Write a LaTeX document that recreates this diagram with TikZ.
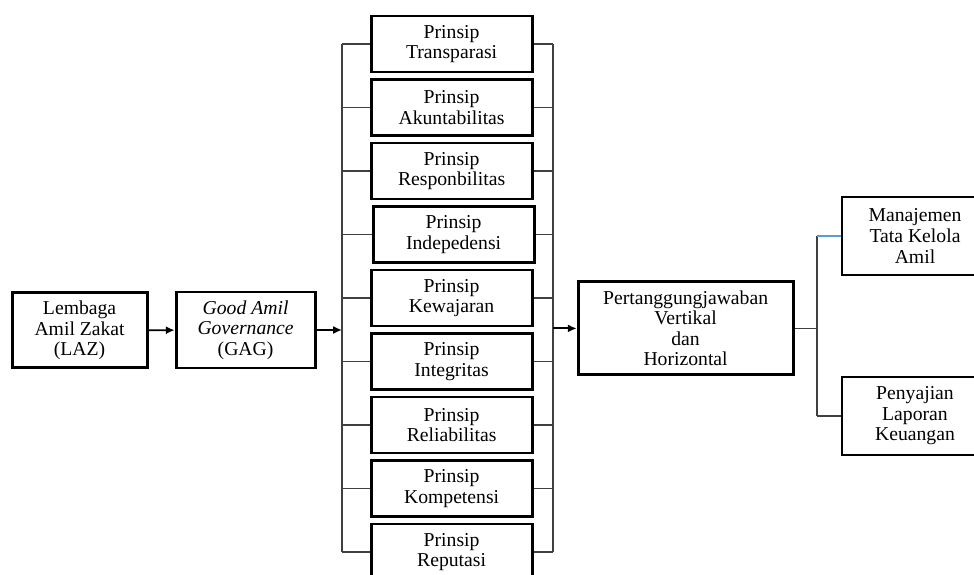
\documentclass[tikz,border=0pt]{standalone}
\usepackage{fontspec}
\setmainfont{Liberation Serif}
\usetikzlibrary{positioning, arrows.meta}
\definecolor{stubblue}{RGB}{91,155,213}
\tikzset{
    base/.style={draw, line width=2pt, align=center, inner sep=1pt, font=\fontsize{14}{14.6}\selectfont},
    box/.style={base, rectangle, minimum width=4.025cm, minimum height=1.4cm},
    bigbox/.style={base, rectangle, minimum height=1.9cm},
    arrow/.style={-{Latex[length=2.2mm, width=2mm]}, line width=1.3pt},
    line/.style={draw, line width=0.8pt, black!75}
}

\begin{document}
\begin{tikzpicture}
    \useasboundingbox (0, 0) rectangle (24.35, -14.375);

    % Left side
    \node[bigbox, minimum width=3.375cm, minimum height=1.875cm] (laz) at (1.99, -8.26) {Lembaga\\Amil Zakat\\(LAZ)};
    \node[bigbox, minimum width=3.475cm] (gag) at (6.14, -8.25) {\textit{Good Amil}\\\textit{Governance}\\(GAG)};

    % Principles
    \node[box] (p1) at (11.29, -1.1) {Prinsip\\Transparasi};
    \node[box] (p2) at (11.29, -2.6875) {Prinsip\\Akuntabilitas};
    \node[box] (p3) at (11.29, -4.275) {Prinsip\\Responbilitas};
    \node[box] (p4) at (11.34, -5.8625) {Prinsip\\Indepedensi};
    \node[box] (p5) at (11.29, -7.45) {Prinsip\\Kewajaran};
    \node[box] (p6) at (11.29, -9.0375) {Prinsip\\Integritas};
    \node[box] (p7) at (11.29, -10.625) {Prinsip\\Reliabilitas};
    \node[box] (p8) at (11.29, -12.2125) {Prinsip\\Kompetensi};
    \node[box] (p9) at (11.29, -13.8) {Prinsip\\Reputasi};

    % Buses
    \coordinate (lbus) at (8.55, 0);
    \coordinate (rbus) at (13.825, 0);
    \draw[line] (p1.west -| lbus) -- (p9.west -| lbus);
    \draw[line] (p1.east -| rbus) -- (p9.east -| rbus);
    \foreach \p in {p1, p2, p3, p4, p5, p6, p7, p8, p9} {
        \draw[line] (\p.west -| lbus) -- (\p.west);
        \draw[line] (\p.east) -- (\p.east -| rbus);
    }

    % Accountability
    \node[base, minimum width=5.375cm, minimum height=2.325cm] (ptj) at (17.14, -8.21) {Pertanggungjawaban\\Vertikal\\dan\\Horizontal};

    \node[bigbox, minimum width=3.65cm, minimum height=1.95cm] (mtk) at (22.875, -5.9) {Manajemen\\Tata Kelola\\Amil};
    \node[bigbox, minimum width=3.65cm, minimum height=1.95cm] (plk) at (22.875, -10.4) {Penyajian\\Laporan\\Keuangan};

    % Arrows
    \draw[arrow] (laz) -- (gag);
    \draw[arrow] (gag.east) -- (gag.east -| lbus);
    \draw[arrow] (ptj.west -| rbus) -- (ptj.west);

    % Fork
    \coordinate (fork) at (20.425, 0);
    \draw[line] (ptj.east) -- (ptj.east -| fork);
    \draw[line] (mtk.west -| fork) -- (plk.west -| fork);
    \draw[line, stubblue] (mtk.west -| fork) -- (mtk.west);
    \draw[line] (plk.west -| fork) -- (plk.west);
\end{tikzpicture}
\end{document}
